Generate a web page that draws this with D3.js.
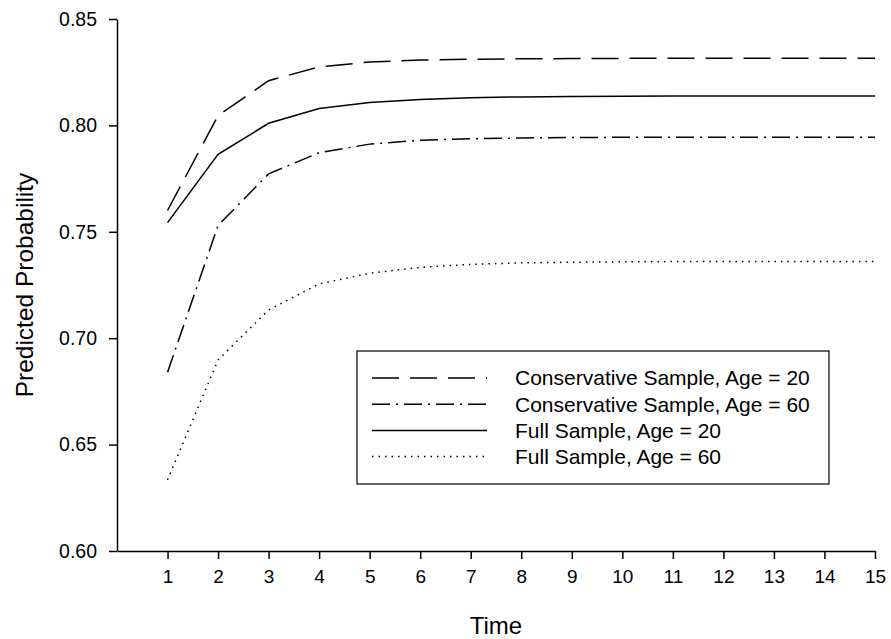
<!DOCTYPE html>
<html>
<head>
<meta charset="utf-8">
<script src="https://cdn.jsdelivr.net/npm/d3@7"></script>
<style>
  body { margin: 0; background: #fff; }
  text { font-family: Arial, "Liberation Sans", Helvetica, sans-serif; fill: #000; }
</style>
</head>
<body>
<div id="chart"></div>
<script>
var times = d3.range(1, 16);

var cons20 = [0.760, 0.8046, 0.8210, 0.8275, 0.8298, 0.8307, 0.8311, 0.8313, 0.8314, 0.8315, 0.8315, 0.8315, 0.8315, 0.8315, 0.8315];
var cons60 = [0.684, 0.7530, 0.7772, 0.7872, 0.7912, 0.7930, 0.7937, 0.7941, 0.7943, 0.7944, 0.7944, 0.7944, 0.7944, 0.7944, 0.7944];
var full20 = [0.7543, 0.7864, 0.8010, 0.8079, 0.8108, 0.8122, 0.8130, 0.8134, 0.8136, 0.8137, 0.8138, 0.8138, 0.8138, 0.8138, 0.8138];
var full60 = [0.6334, 0.6898, 0.7133, 0.7255, 0.7305, 0.7333, 0.7347, 0.7354, 0.7357, 0.7359, 0.7360, 0.7360, 0.7360, 0.7360, 0.7360];

var seriesNames = ["Conservative Sample, Age = 20", "Conservative Sample, Age = 60", "Full Sample, Age = 20", "Full Sample, Age = 60"];
var seriesValues = [cons20, cons60, full20, full60];
var seriesDash = ["27,11", "18,6,2,6", null, "1.5,5"];

var yTicks = [0.60, 0.65, 0.70, 0.75, 0.80, 0.85];

var full_width = 891, full_height = 639;
var margin = { top: 19, right: 16, bottom: 88, left: 117 };
var width = full_width - margin.left - margin.right;
var height = full_height - margin.top - margin.bottom;

var x = d3.scaleLinear().domain([0, 15]).range([0, width]);
var y = d3.scaleLinear().domain([0.60, 0.85]).range([height, 0]);

var svg = d3.select("#chart").append("svg")
    .attr("width", full_width)
    .attr("height", full_height);

var g = svg.append("g")
    .attr("transform", "translate(" + margin.left + "," + margin.top + ")");

// X Axis
var xAxis = g.append("g")
    .attr("transform", "translate(0," + height + ")")
    .call(d3.axisBottom(x).tickValues(times).tickSize(8).tickPadding(11).tickSizeOuter(0));
xAxis.selectAll("text").style("font-size", "19px");

// Y Axis
var yAxis = g.append("g")
    .call(d3.axisLeft(y).tickValues(yTicks).tickFormat(d3.format(".2f")).tickSize(8).tickPadding(12).tickSizeOuter(0));
yAxis.selectAll("text").style("font-size", "19.5px");

g.selectAll(".domain, .tick line").attr("stroke", "#000").attr("stroke-width", 1.5);

// lines
var line = d3.line()
    .x(function(d, i) { return x(times[i]); })
    .y(function(d) { return y(d); });

seriesValues.forEach(function(vals, k) {
    g.append("path")
        .datum(vals)
        .attr("fill", "none")
        .attr("stroke", "#000")
        .attr("stroke-width", 1.5)
        .attr("stroke-dasharray", seriesDash[k])
        .attr("d", line);
});

// Legend
var legend = svg.append("g").attr("transform", "translate(357,351)");
legend.append("rect")
    .attr("width", 472)
    .attr("height", 133)
    .attr("fill", "#fff")
    .attr("stroke", "#000")
    .attr("stroke-width", 1.2);

seriesNames.forEach(function(name, k) {
    var cy = 27 + k * 26.2;
    legend.append("line")
        .attr("x1", 15).attr("x2", 130)
        .attr("y1", cy).attr("y2", cy)
        .attr("stroke", "#000")
        .attr("stroke-width", 1.5)
        .attr("stroke-dasharray", seriesDash[k]);
    legend.append("text")
        .attr("x", 158)
        .attr("y", cy)
        .attr("dy", "0.35em")
        .style("font-size", "21px")
        .text(name);
});

// X Axis label
svg.append("text")
    .attr("x", margin.left + width / 2)
    .attr("y", 634)
    .style("text-anchor", "middle")
    .style("font-size", "24px")
    .text("Time");

// Y Axis label
svg.append("text")
    .attr("transform", "translate(33," + (margin.top + height / 2) + ") rotate(-90)")
    .style("text-anchor", "middle")
    .style("font-size", "24.5px")
    .text("Predicted Probability");
</script>
</body>
</html>
